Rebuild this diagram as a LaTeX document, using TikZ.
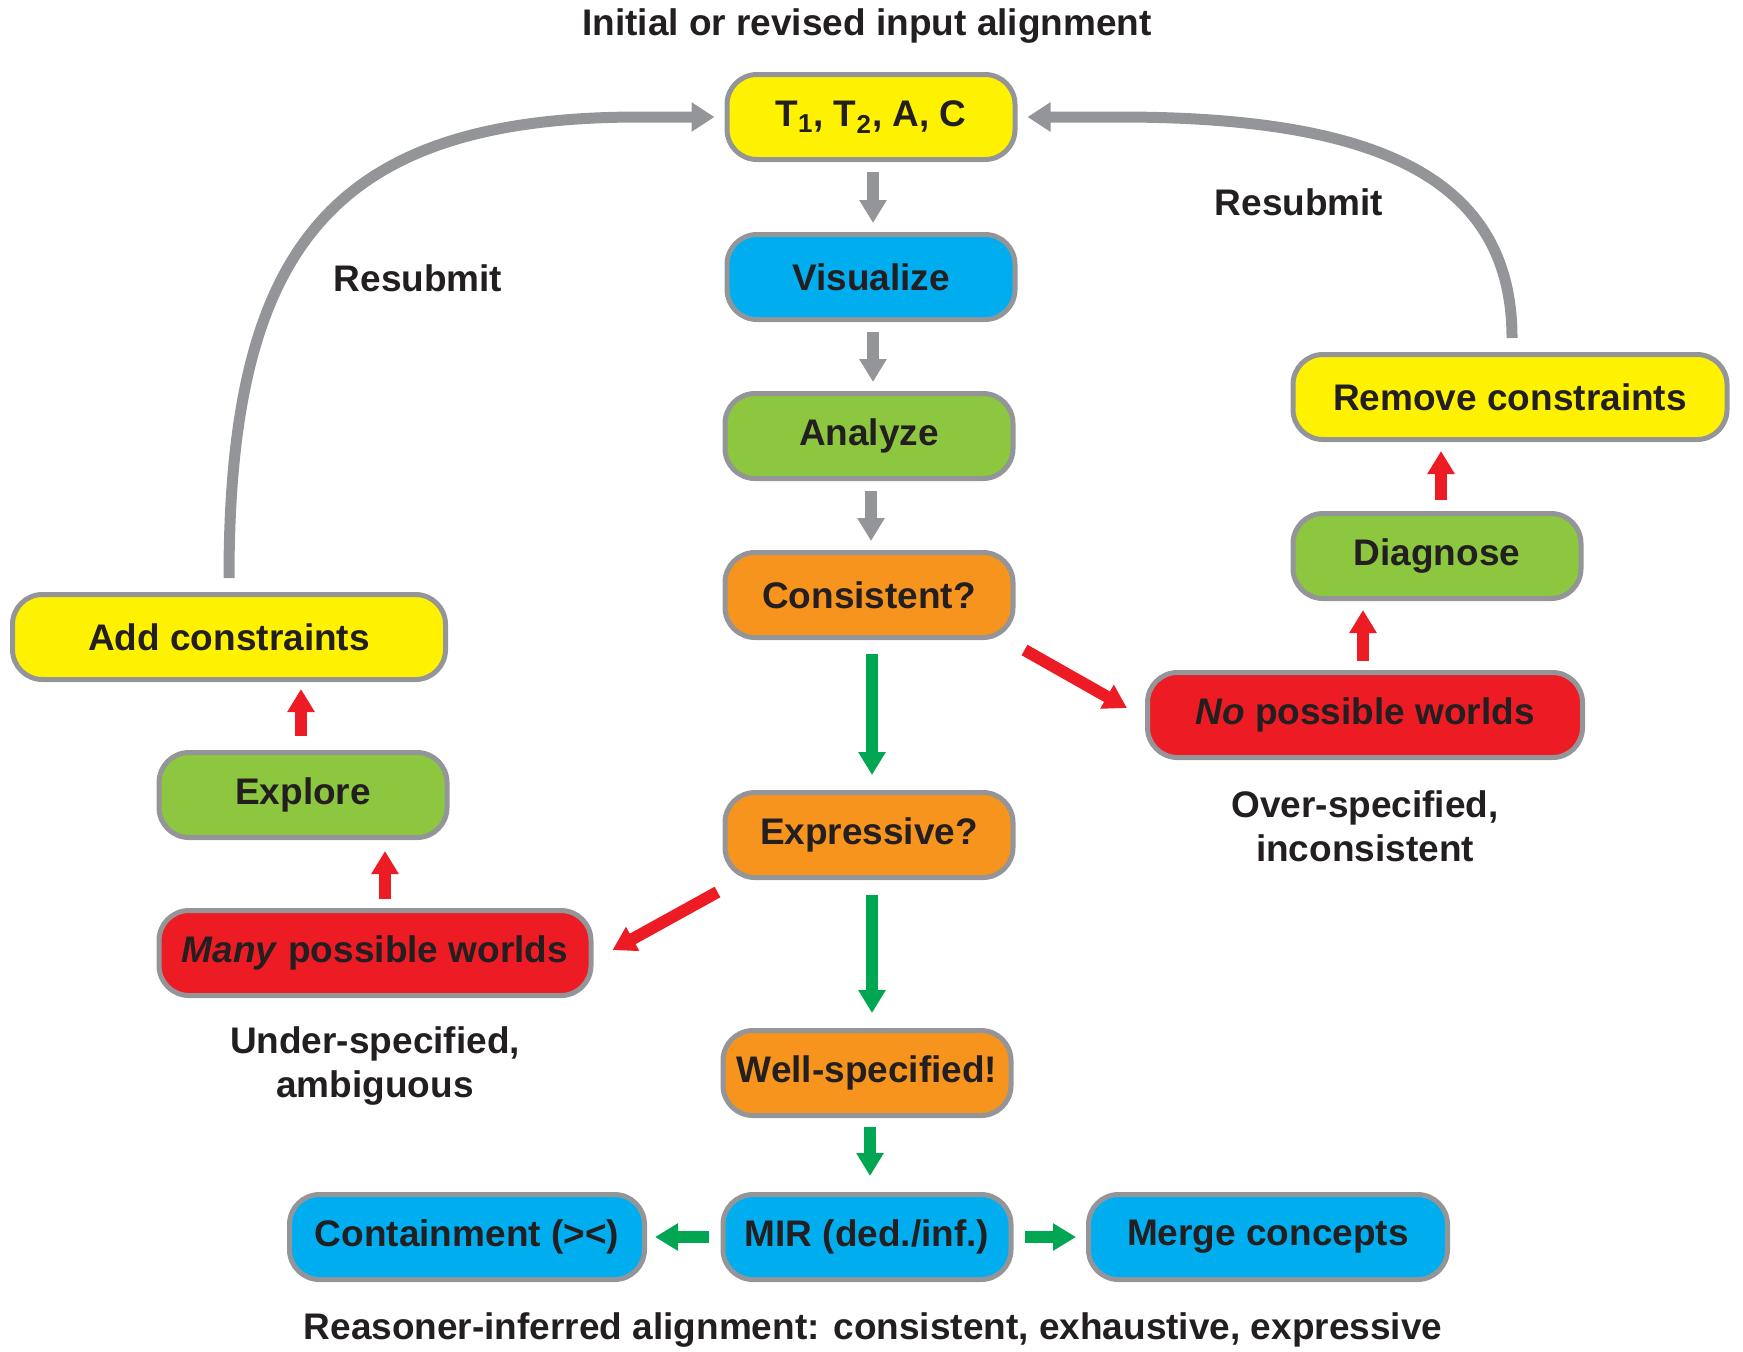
\documentclass[tikz,border=0pt]{standalone}
\usepackage{fontspec}
\setmainfont{Liberation Sans}
\usetikzlibrary{arrows.meta}
\definecolor{cyellow}{HTML}{FFF200}
\definecolor{cblue}{HTML}{00AEEF}
\definecolor{cgreen}{HTML}{8DC63F}
\definecolor{corange}{HTML}{F7941D}
\definecolor{cred}{HTML}{ED1C24}
\definecolor{bgray}{HTML}{939598}
\definecolor{agreen}{HTML}{00A651}
\definecolor{txt}{HTML}{231F20}
\tikzset{
  box/.style={draw=bgray, line width=2.5pt, rounded corners=15pt,
    minimum height=42.5pt, minimum width=144pt, inner sep=0pt, text=txt,
    font=\bfseries\fontsize{18.5}{22}\selectfont},
  lbl/.style={text=txt, align=center, inner sep=0pt,
    font=\bfseries\fontsize{18.5}{22}\selectfont},
  blk/.style={line width=6pt, -{Triangle[width=13pt,length=11.5pt]}},
  grayarrow/.style={blk, draw=bgray},
  greenarrow/.style={blk, draw=agreen},
  redarrow/.style={blk, draw=cred},
  loopline/.style={draw=bgray, line width=5.5pt, -{Triangle[width=14pt,length=11.5pt]}}
}
\begin{document}
\begin{tikzpicture}[x=0.5pt,y=-0.5pt]
\useasboundingbox (0,0) rectangle (1743,1351);

% central column
\node[box, fill=cyellow] (top) at (871,117) {T\textsubscript{1}, T\textsubscript{2}, A, C};
\node[box, fill=cblue] (vis) at (871,277) {Visualize};
\node[box, fill=cgreen] (ana) at (869,436) {Analyze};
\node[box, fill=corange] (cons) at (869,595) {Consistent?};
\node[box, fill=corange] (expr) at (869,835) {Expressive?};
\node[box, fill=corange] (well) at (867,1073) {Well-specified!};
\node[box, fill=cblue] (mir) at (867,1237) {MIR (ded./inf.)};
\node[box, fill=cblue, minimum width=177.5pt] (cont) at (467,1237) {Containment (><)};
\node[box, fill=cblue, minimum width=179.5pt] (merge) at (1268,1237) {Merge concepts};

% left branch
\node[box, fill=cyellow, minimum width=216.5pt] (add) at (229,637) {Add constraints};
\node[box, fill=cgreen] (explore) at (303,795) {Explore};
\node[box, fill=cred, minimum width=216pt] (many) at (375,953) {\textit{Many} possible worlds};

% right branch
\node[box, fill=cyellow, minimum width=217pt] (remove) at (1510,397) {Remove constraints};
\node[box, fill=cgreen] (diag) at (1437,556) {Diagnose};
\node[box, fill=cred, minimum width=217.5pt] (nopw) at (1365,715) {\textit{No} possible worlds};

% labels
\node[lbl] (title) at (867,26) {Initial or revised input alignment};
\node[lbl] (resl) at (418,278) {Resubmit};
\node[lbl] (resr) at (1299,202) {Resubmit};
\node[lbl] (over) at (1365,826) {Over-specified,\\inconsistent};
\node[lbl] (under) at (375,1066) {Under-specified,\\ambiguous};
\node[lbl] (bottom) at (873,1330) {Reasoner-inferred alignment: consistent, exhaustive, expressive};

% gray arrows
\draw[grayarrow] ([xshift=1pt,yshift=-5pt]top.south) -- ([xshift=1pt,yshift=4.5pt]top.south |- vis.north);
\draw[grayarrow] ([xshift=1pt,yshift=-5pt]vis.south) -- ([xshift=1pt,yshift=4.5pt]vis.south |- ana.north);
\draw[grayarrow] ([xshift=1pt,yshift=-5pt]ana.south) -- ([xshift=1pt,yshift=4.5pt]ana.south |- cons.north);

% green arrows
\draw[greenarrow] ([xshift=1.5pt,yshift=-7pt]cons.south) -- ([xshift=1.5pt,yshift=7.5pt]cons.south |- expr.north);
\draw[greenarrow] ([xshift=1.5pt,yshift=-7.5pt]expr.south) -- ([xshift=1.5pt,yshift=7.5pt]expr.south |- well.north);
\draw[greenarrow] ([xshift=1.5pt,yshift=-4.5pt]well.south) -- ([xshift=1.5pt,yshift=8pt]well.south |- mir.north);
\draw[greenarrow] ([xshift=-6pt]mir.west) -- ([xshift=4pt]cont.east);
\draw[greenarrow] ([xshift=5.5pt]mir.east) -- ([xshift=-5pt]merge.west);

% red arrows
\draw[redarrow] ([xshift=4.5pt,yshift=-5pt]cons.south east) -- ([xshift=-9pt,yshift=3.5pt]nopw.west);
\draw[redarrow] ([xshift=-2.5pt,yshift=-6pt]expr.south west) -- ([xshift=9.5pt,yshift=1.5pt]many.east);
\draw[redarrow] ([xshift=-1pt,yshift=4.5pt]nopw.north) -- ([xshift=-1pt,yshift=-4.5pt]nopw.north |- diag.south);
\draw[redarrow] ([xshift=2pt,yshift=5.5pt]diag.north) -- ([xshift=2pt,yshift=-4.5pt]diag.north |- remove.south);
\draw[redarrow] ([xshift=5pt,yshift=4.5pt]many.north) -- ([xshift=5pt,yshift=-5.5pt]many.north |- explore.south);
\draw[redarrow] ([xshift=-1pt,yshift=7pt]explore.north) -- ([xshift=-1pt,yshift=-3.5pt]explore.north |- add.south);

% resubmit loops
\draw[loopline] ([yshift=7pt]add.north) .. controls +(0,-328) and +(-310,0) .. ([xshift=-42.5pt]top.west) -- ([xshift=-5pt]top.west);
\draw[loopline] ([xshift=1pt,yshift=7pt]remove.north) .. controls +(0,-159) and +(260,0) .. ([xshift=51pt]top.east) -- ([xshift=5pt]top.east);
\end{tikzpicture}
\end{document}
